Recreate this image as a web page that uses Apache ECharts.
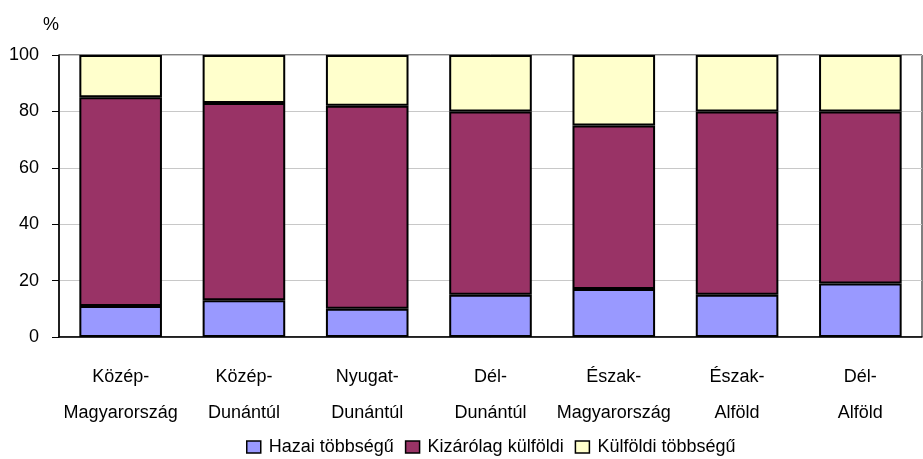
<!DOCTYPE html>
<html>
<head>
<meta charset="utf-8">
<script src="https://cdn.jsdelivr.net/npm/echarts@6/dist/echarts.min.js"></script>
<style>
html, body { margin: 0; padding: 0; background: #fff; }
#chart { width: 923px; height: 459px; }
</style>
</head>
<body>
<div id="chart"></div>
<script>
// regions (two-line labels as in the original)
var categories = ['Közép-\nMagyarország', 'Közép-\nDunántúl', 'Nyugat-\nDunántúl', 'Dél-\nDunántúl',
    'Észak-\nMagyarország', 'Észak-\nAlföld', 'Dél-\nAlföld'];
var seriesNames = ['Hazai többségű', 'Kizárólag külföldi', 'Külföldi többségű'];
var hazai = [11, 13, 10, 15, 17, 15, 19];
var kizarolag = [74, 70, 72, 65, 58, 65, 61];
var kulfoldi = [15, 17, 18, 20, 25, 20, 20];
var colors = ['#9999ff', '#993366', '#ffffcc'];

var chart = echarts.init(document.getElementById('chart'));

var font = 'Liberation Sans, Arial, sans-serif';

function barSeries(name, data, color) {
    return {
        name: name,
        type: 'bar',
        stack: 'total',
        barWidth: '67%',
        data: data,
        itemStyle: {
            color: color,
            borderColor: '#000',
            borderWidth: 2
        }
    };
}

var option = {
    animation: false,
    textStyle: { fontFamily: font },
    grid: {
        left: 59,
        right: 1,
        top: 55,
        bottom: 122,
        show: true,
        borderColor: '#000',
        borderWidth: 1
    },
    legend: {
        top: 438,
        left: 246,
        padding: 0,
        icon: 'rect',
        itemWidth: 14,
        itemHeight: 12,
        itemGap: 11,
        textStyle: { fontSize: 18, color: '#000', fontFamily: font, padding: [0, 0, 0, 3] },
        data: seriesNames.map(function (n, i) {
            return { name: n, itemStyle: { color: colors[i], borderColor: '#000', borderWidth: 1.5 } };
        })
    },
    xAxis: {
        type: 'category',
        data: categories,
        axisLine: { lineStyle: { color: '#000', width: 1.5 } },
        axisTick: { show: false },
        axisLabel: {
            color: '#000',
            fontSize: 18,
            lineHeight: 36,
            margin: 22,
            interval: 0
        }
    },
    yAxis: {
        type: 'value',
        min: 0,
        max: 100,
        interval: 20,
        name: '%',
        nameGap: 21,
        nameTextStyle: { color: '#000', fontSize: 18, align: 'center', padding: [0, 16, 0, 0] },
        axisLine: { show: true, lineStyle: { color: '#000', width: 1.5 } },
        axisTick: { show: true, length: 7, lineStyle: { color: '#000' } },
        axisLabel: { color: '#000', fontSize: 18, margin: 20 },
        splitLine: { lineStyle: { color: '#c8c8c8' } }
    },
    series: [
        barSeries(seriesNames[0], hazai, colors[0]),
        barSeries(seriesNames[1], kizarolag, colors[1]),
        barSeries(seriesNames[2], kulfoldi, colors[2])
    ]
};

chart.setOption(option);
</script>
</body>
</html>
